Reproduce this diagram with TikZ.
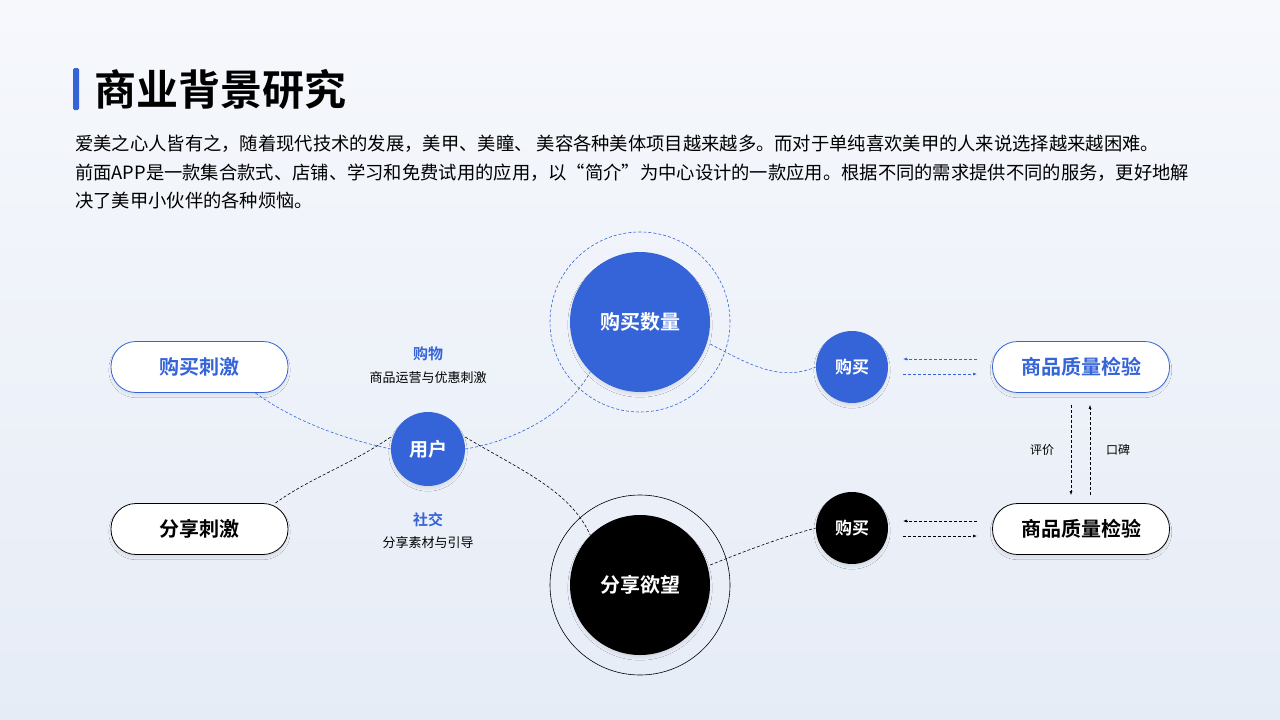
\documentclass[tikz,border=0pt]{standalone}
\usepackage{fontspec}
\setmainfont{Noto Sans CJK SC}
\newfontfamily\cjkb{Noto Sans CJK SC Bold}
\usetikzlibrary{arrows.meta,shadows.blur}
\definecolor{bl}{HTML}{3564D8}
\definecolor{bgA}{HTML}{F6F8FC}
\definecolor{bgB}{HTML}{E6ECF6}
\begin{document}
\begin{tikzpicture}[x=1pt,y=-1pt,
 shd/.style={blur shadow={shadow blur steps=8,shadow xshift=0pt,shadow yshift=-3pt,shadow opacity=8}},
 pill/.style={draw,line width=0.8pt,fill=white,rounded corners=25pt,minimum width=177pt,minimum height=51pt,font=\cjkb\fontsize{20}{20}\selectfont,shd},
 circ/.style={circle,inner sep=0pt,text=white,font=\cjkb\fontsize{#1}{#1}\selectfont,shd},
 dl/.style={densely dashed,line width=0.6pt},
 ar/.style={densely dashed,line width=0.6pt,-{Latex[length=4pt,width=3pt]}},
 sm/.style={font=\fontsize{13}{13}\selectfont},
 hd/.style={font=\cjkb\fontsize{15}{15}\selectfont,text=bl}]
\useasboundingbox (0,0) rectangle (1280,720);
\shade[top color=bgA,bottom color=bgB] (0,0) rectangle (1280,720);
\fill[bl,rounded corners=1.5pt] (73,68) rectangle (79,110);
\node[anchor=west,font=\cjkb\fontsize{42}{42}\selectfont,inner sep=0pt] (title) at (94,89) {商业背景研究};
\node[anchor=north west,inner sep=0pt,align=left,font=\fontsize{18.3}{28.5}\selectfont] (para) at (75,135) {爱美之心人皆有之，随着现代技术的发展，美甲、美瞳、 美容各种美体项目越来越多。而对于单纯喜欢美甲的人来说选择越来越困难。\\前面APP是一款集合款式、店铺、学习和免费试用的应用，以“简介”为中心设计的一款应用。根据不同的需求提供不同的服务，更好地解\\决了美甲小伙伴的各种烦恼。};
% outer rings
\node[circle,draw=bl,densely dashed,line width=0.6pt,minimum size=180pt] (ring1) at (640,322) {};
\node[circle,draw=black,line width=0.6pt,minimum size=180pt] (ring2) at (640,585) {};
% nodes
\node[pill,draw=bl,text=bl] (p1) at (199.5,367) {购买刺激};
\node[pill,draw=black,text=black] (p2) at (199.5,529) {分享刺激};
\node[pill,draw=bl,text=bl] (q1) at (1081,367) {商品质量检验};
\node[pill,draw=black,text=black] (q2) at (1081,529) {商品质量检验};
\node[circ=19,fill=bl,minimum size=74pt] (u) at (428,449) {用户};
\node[circ=20,fill=bl,minimum size=140pt] (c1) at (640,322) {购买数量};
\node[circ=20,fill=black,minimum size=140pt] (c2) at (640,585) {分享欲望};
\node[circ=17,fill=bl,minimum size=72pt] (b1) at (852,367) {购买};
\node[circ=17,fill=black,minimum size=72pt] (b2) at (852,528) {购买};
% labels
\node[hd] (l1) at (428,354) {购物};
\node[sm] (l1b) at (428,378) {商品运营与优惠刺激};
\node[hd] (l2) at (428,520) {社交};
\node[sm] (l2b) at (428,543) {分享素材与引导};
\node[font=\fontsize{12}{12}\selectfont] (e1) at (1042,450) {评价};
\node[font=\fontsize{12}{12}\selectfont] (e2) at (1118,450) {口碑};
% curves
\draw[dl,bl] (p1.south east) ++(-33,0) coordinate (s1) (s1) .. controls (300,425) and (350,440) .. (u.west);
\draw[dl,bl] (u.east) .. controls (520,440) and (570,410) .. (c1.south west);
\draw[dl,bl] (c1.east) ++(0,22) coordinate (s2) (s2) .. controls (750,365) and (780,382) .. (b1.west);
\draw[dl,black] (p2.north east) ++(-13,0) coordinate (s3) (s3) .. controls (310,478) and (350,465) .. ([yshift=12pt]u.west);
\draw[dl,black] ([yshift=12pt]u.east) .. controls (520,470) and (570,490) .. (c2.north west);
\draw[dl,black] (c2.east) ++(0,-20) coordinate (s4) (s4) .. controls (760,545) and (790,535) .. (b2.west);
% arrows
\coordinate (a1) at (977,359); \coordinate (a2) at (903,359);
\coordinate (a3) at (903,374); \coordinate (a4) at (977,374);
\draw[ar,bl] (a1) -- (a2); \draw[ar,bl] (a3) -- (a4);
\coordinate (a5) at (977,521); \coordinate (a6) at (903,521);
\coordinate (a7) at (903,536); \coordinate (a8) at (977,536);
\draw[ar] (a5) -- (a6); \draw[ar] (a7) -- (a8);
\draw[ar] ([xshift=-10pt,yshift=-12pt]q1.south) -- ([xshift=-10pt,yshift=8pt]q2.north);
\draw[ar] ([xshift=9pt,yshift=8pt]q2.north) -- ([xshift=9pt,yshift=-12pt]q1.south);
\end{tikzpicture}
\end{document}
